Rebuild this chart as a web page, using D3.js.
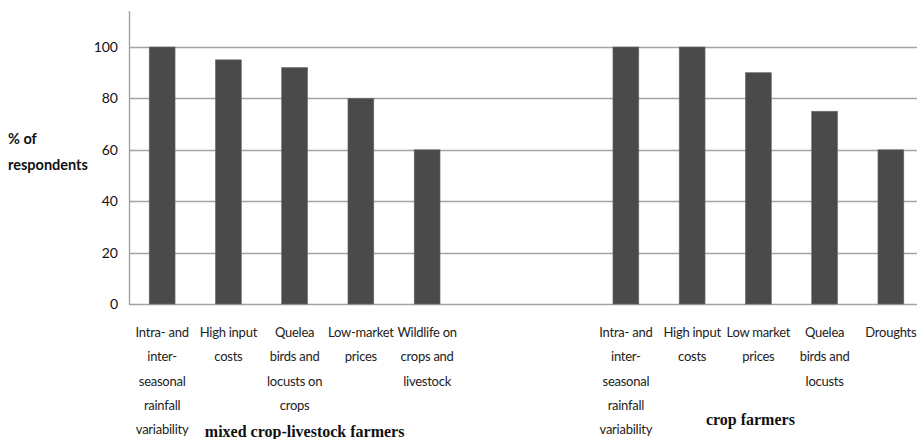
<!DOCTYPE html>
<html>
<head>
<meta charset="utf-8">
<script src="https://cdn.jsdelivr.net/npm/d3@7/dist/d3.min.js"></script>
<style>
  html, body { margin: 0; padding: 0; background: #fff; }
  svg { display: block; }
</style>
</head>
<body>
<svg id="chart" width="917" height="439"></svg>
<script>
// Constraints reported by each farmer group (% of respondents)
const mixedCategories = [
  "Intra- and\ninter-\nseasonal\nrainfall\nvariability",
  "High input\ncosts",
  "Quelea\nbirds and\nlocusts on\ncrops",
  "Low-market\nprices",
  "Wildlife on\ncrops and\nlivestock"
];
const mixedValues = [100, 95, 92, 80, 60];

const cropCategories = [
  "Intra- and\ninter-\nseasonal\nrainfall\nvariability",
  "High input\ncosts",
  "Low market\nprices",
  "Quelea\nbirds and\nlocusts",
  "Droughts"
];
const cropValues = [100, 100, 90, 75, 60];

const groupLabels = ["mixed crop-livestock farmers", "crop farmers"];
const yTicks = [0, 20, 40, 60, 80, 100];
const yTitle = ["% of", "respondents"];

// Slot layout: five mixed bars, two empty slots, five crop bars
const rows = [];
mixedCategories.forEach((c, i) => rows.push({ slot: i, label: c, value: mixedValues[i] }));
cropCategories.forEach((c, i) => rows.push({ slot: i + 7, label: c, value: cropValues[i] }));

const svg = d3.select("#chart");
const W = 917;
const left = 129, right = 924, baseline = 304, top100 = 47;
const sans = "Lato, 'Open Sans', sans-serif";

const x = d3.scaleBand()
  .domain(d3.range(12))
  .range([left, right])
  .paddingInner(0.61)
  .paddingOuter(0.305);

const y = d3.scaleLinear().domain([0, 100]).range([baseline, top100]);

const gridColor = "#a3a3a3";

// Horizontal gridlines
svg.append("g")
  .selectAll("line")
  .data(yTicks)
  .join("line")
  .attr("x1", left)
  .attr("x2", W)
  .attr("y1", d => Math.round(y(d)) + 0.5)
  .attr("y2", d => Math.round(y(d)) + 0.5)
  .attr("stroke", gridColor)
  .attr("stroke-width", 1.4);

// Vertical axis line
svg.append("line")
  .attr("x1", left + 0.5).attr("x2", left + 0.5)
  .attr("y1", y(114)).attr("y2", baseline + 1)
  .attr("stroke", gridColor)
  .attr("stroke-width", 1.4);

// Y tick labels via a left axis
const yAxis = svg.append("g")
  .attr("transform", `translate(${left},0)`)
  .call(d3.axisLeft(y).tickValues(yTicks).tickSize(0).tickPadding(11));
yAxis.select(".domain").remove();
yAxis.selectAll("text")
  .attr("font-family", sans)
  .attr("font-size", 14)
  .attr("fill", "#111");

// Y title
svg.append("text")
  .attr("font-family", sans)
  .attr("font-weight", "bold")
  .attr("font-size", 14.5)
  .attr("fill", "#111")
  .selectAll("tspan")
  .data(yTitle)
  .join("tspan")
  .attr("x", 8)
  .attr("y", (d, i) => 144 + i * 26)
  .text(d => d);

// Bars
svg.append("g")
  .selectAll("rect")
  .data(rows)
  .join("rect")
  .attr("x", d => x(d.slot))
  .attr("width", x.bandwidth())
  .attr("y", d => y(d.value))
  .attr("height", d => baseline - y(d.value))
  .attr("fill", "#4a4a4a")
  .attr("stroke", "#6a6a6a")
  .attr("stroke-width", 0.6);

// Category labels, multi-line, centred under each bar
const catG = svg.append("g")
  .attr("font-family", sans)
  .attr("font-size", 13)
  .attr("letter-spacing", -0.25)
  .attr("fill", "#222")
  .attr("text-anchor", "middle");

rows.forEach(r => {
  const cx = x(r.slot) + x.bandwidth() / 2;
  const t = catG.append("text");
  r.label.split("\n").forEach((line, i) => {
    t.append("tspan")
      .attr("x", cx)
      .attr("y", 337 + i * 24.3)
      .text(line);
  });
});

// Group captions
const groupX = [x(2) + x.bandwidth() / 2 + 10, x(9) + x.bandwidth() / 2 - 8];
const groupY = [437, 425];
svg.append("g")
  .selectAll("text")
  .data(groupLabels)
  .join("text")
  .attr("x", (d, i) => groupX[i])
  .attr("y", (d, i) => groupY[i])
  .attr("text-anchor", "middle")
  .attr("font-family", "'Liberation Serif', 'Times New Roman', serif")
  .attr("font-weight", "bold")
  .attr("font-size", 16)
  .attr("fill", "#111")
  .text(d => d);
</script>
</body>
</html>
